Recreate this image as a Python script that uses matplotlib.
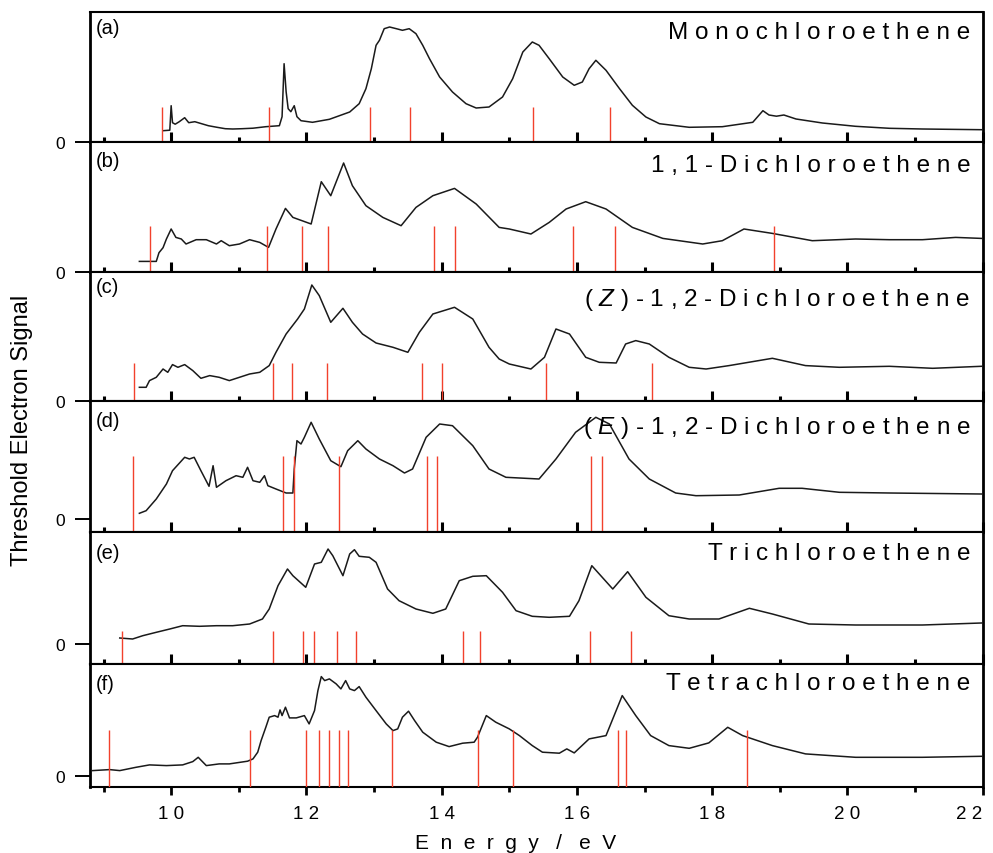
import matplotlib
matplotlib.use("Agg")
import matplotlib.pyplot as plt

plt.rcParams['font.family'] = ['Liberation Sans', 'DejaVu Sans']
plt.rcParams['mathtext.fontset'] = 'custom'
plt.rcParams['mathtext.rm'] = 'Liberation Sans'
plt.rcParams['mathtext.it'] = 'Liberation Sans:italic'

# ---- data (energy in eV, signal in arbitrary units) ----
names = ["Monochloroethene", "1,1-Dichloroethene", "(Z)-1,2-Dichloroethene",
         "(E)-1,2-Dichloroethene", "Trichloroethene", "Tetrachloroethene"]
panel_tags = ["(a)", "(b)", "(c)", "(d)", "(e)", "(f)"]

e_a = [9.88, 9.98, 10.00, 10.02, 10.06, 10.12, 10.20, 10.26, 10.35, 10.45, 10.55, 10.67,
       10.80, 10.91, 11.05, 11.21, 11.40, 11.60, 11.64, 11.67, 11.70, 11.73, 11.77, 11.82,
       11.86, 11.92, 12.09, 12.34, 12.64, 12.78, 12.88, 12.96, 13.03, 13.08, 13.15, 13.23,
       13.33, 13.42, 13.52, 13.62, 13.72, 13.82, 13.97, 14.16, 14.36, 14.51, 14.70, 14.90,
       15.05, 15.20, 15.34, 15.44, 15.59, 15.79, 15.96, 16.08, 16.18, 16.28, 16.43, 16.63,
       16.82, 17.02, 17.22, 17.66, 18.15, 18.60, 18.75, 18.84, 18.95, 19.06, 19.24, 19.63,
       20.12, 20.62, 21.11, 21.98]
s_a = [11.0, 11.5, 36.0, 19.0, 17.5, 20.0, 24.0, 19.0, 20.0, 18.0, 16.0, 14.5,
       13.0, 12.7, 13.0, 13.5, 15.0, 16.0, 25.0, 78.0, 50.0, 33.0, 30.0, 36.0,
       25.0, 21.0, 19.4, 22.4, 29.7, 38.0, 53.0, 73.0, 96.4, 101.4, 113.0, 114.7,
       113.0, 111.4, 113.0, 108.0, 96.4, 83.0, 64.7, 49.7, 38.0, 33.7, 34.7, 44.7,
       63.0, 89.7, 99.7, 96.4, 83.0, 64.7, 56.4, 59.7, 73.0, 81.4, 71.4, 53.0,
       36.4, 24.7, 18.0, 14.4, 15.0, 19.4, 31.0, 26.7, 25.5, 26.7, 22.7, 18.7,
       15.4, 13.4, 12.7, 12.0]

e_b = [9.53, 9.78, 9.82, 9.88, 9.93, 10.00, 10.07, 10.15, 10.22, 10.37, 10.52, 10.67,
       10.74, 10.86, 11.01, 11.16, 11.31, 11.44, 11.55, 11.69, 11.80, 12.07, 12.22, 12.36,
       12.55, 12.68, 12.88, 13.13, 13.40, 13.62, 13.87, 14.19, 14.51, 14.85, 15.00, 15.32,
       15.59, 15.84, 16.13, 16.43, 16.82, 17.27, 17.86, 18.15, 18.47, 18.89, 19.48, 20.12,
       20.62, 21.11, 21.60, 21.98]
s_b = [10.3, 10.3, 19.0, 24.0, 32.7, 42.7, 34.3, 32.7, 27.7, 32.0, 32.0, 27.7,
       31.0, 26.0, 27.7, 32.0, 29.3, 24.3, 42.7, 63.3, 54.3, 47.7, 90.0, 76.0,
       108.7, 86.0, 66.0, 54.3, 46.0, 64.3, 76.0, 83.3, 67.7, 44.3, 42.7, 37.7,
       49.3, 62.7, 70.0, 62.7, 44.3, 33.3, 27.7, 31.0, 42.7, 38.3, 31.0, 32.7,
       32.0, 32.0, 34.3, 33.3]

e_c = [9.53, 9.63, 9.68, 9.78, 9.88, 9.95, 10.02, 10.10, 10.20, 10.32, 10.44, 10.57,
       10.71, 10.86, 11.01, 11.16, 11.31, 11.45, 11.55, 11.70, 11.87, 11.97, 12.08, 12.19,
       12.36, 12.54, 12.68, 12.83, 13.03, 13.28, 13.50, 13.67, 13.87, 14.19, 14.46, 14.70,
       14.85, 15.00, 15.32, 15.52, 15.69, 15.89, 16.13, 16.33, 16.58, 16.72, 16.87, 17.07,
       17.36, 17.66, 17.91, 18.25, 18.89, 19.38, 19.88, 20.62, 21.26, 21.98]
s_c = [14.0, 14.0, 20.7, 24.0, 32.3, 29.0, 36.7, 34.0, 36.7, 30.7, 23.0, 25.7,
       24.0, 20.7, 24.0, 27.3, 29.0, 35.7, 49.0, 67.3, 82.3, 92.3, 116.3, 105.7,
       79.0, 93.0, 79.0, 67.3, 58.3, 54.0, 49.0, 69.0, 87.3, 94.0, 82.3, 54.0,
       42.3, 37.3, 32.3, 44.0, 72.3, 67.3, 44.0, 39.0, 38.3, 57.3, 60.7, 57.3,
       44.0, 34.0, 32.3, 35.7, 43.0, 35.7, 34.0, 35.0, 33.0, 35.0]

e_d = [9.53, 9.63, 9.78, 9.93, 10.02, 10.20, 10.27, 10.34, 10.44, 10.56, 10.62, 10.67,
       10.81, 10.96, 11.06, 11.13, 11.21, 11.31, 11.38, 11.43, 11.55, 11.70, 11.80, 11.82,
       11.86, 11.92, 11.97, 12.07, 12.19, 12.36, 12.51, 12.61, 12.76, 12.88, 13.08, 13.28,
       13.45, 13.57, 13.77, 13.97, 14.16, 14.46, 14.70, 14.95, 15.44, 15.69, 15.98, 16.28,
       16.48, 16.77, 17.07, 17.46, 17.76, 18.40, 18.99, 19.33, 19.88, 20.62, 21.98]
s_d = [5.7, 8.3, 20.0, 35.0, 48.3, 61.7, 60.0, 61.7, 48.3, 32.7, 53.3, 31.7,
       38.3, 43.3, 41.7, 51.7, 38.3, 36.7, 43.3, 33.3, 30.0, 26.0, 26.0, 50.0,
       78.3, 75.0, 81.7, 96.7, 80.0, 58.3, 52.3, 68.3, 78.3, 70.0, 60.0, 53.3,
       46.0, 50.0, 81.7, 95.0, 93.3, 73.3, 50.0, 41.7, 40.0, 60.0, 86.7, 101.7,
       95.0, 60.0, 40.0, 26.0, 23.3, 24.0, 30.7, 30.7, 26.7, 26.0, 25.0]

e_e = [9.24, 9.43, 9.58, 9.78, 9.98, 10.17, 10.42, 10.67, 10.91, 11.16, 11.35, 11.45,
       11.58, 11.72, 11.80, 11.99, 12.12, 12.22, 12.32, 12.39, 12.54, 12.64, 12.71, 12.78,
       12.93, 13.03, 13.20, 13.37, 13.62, 13.87, 14.06, 14.26, 14.46, 14.66, 14.90, 15.10,
       15.34, 15.59, 15.89, 16.03, 16.22, 16.53, 16.75, 17.02, 17.36, 17.66, 18.10, 18.55,
       18.89, 19.43, 20.12, 21.11, 21.98]
s_e = [6.0, 5.0, 8.3, 11.7, 15.0, 18.3, 17.7, 18.3, 18.3, 20.0, 25.0, 35.0,
       58.3, 75.0, 68.3, 56.7, 80.0, 81.7, 95.0, 88.3, 68.3, 90.0, 94.3, 87.7,
       86.7, 81.7, 55.0, 43.3, 35.0, 30.7, 35.0, 63.3, 67.7, 68.3, 51.7, 33.3,
       27.7, 26.7, 27.7, 43.3, 78.3, 55.0, 72.3, 46.7, 28.3, 25.0, 25.0, 35.7,
       30.0, 20.0, 19.0, 19.0, 21.0]

e_f = [8.84, 9.09, 9.24, 9.48, 9.68, 9.93, 10.17, 10.32, 10.40, 10.52, 10.71, 10.86,
       11.13, 11.21, 11.28, 11.33, 11.40, 11.45, 11.53, 11.58, 11.61, 11.64, 11.69, 11.75,
       11.85, 11.97, 12.04, 12.12, 12.17, 12.22, 12.27, 12.34, 12.44, 12.51, 12.58, 12.64,
       12.71, 12.78, 12.88, 13.03, 13.18, 13.28, 13.35, 13.42, 13.51, 13.60, 13.72, 13.92,
       14.11, 14.31, 14.48, 14.53, 14.66, 14.80, 15.00, 15.15, 15.34, 15.49, 15.74, 15.85,
       15.96, 16.18, 16.43, 16.67, 16.87, 17.09, 17.36, 17.66, 17.95, 18.23, 18.45, 18.89,
       19.38, 20.12, 21.11, 21.98]
s_f = [5.0, 6.0, 5.0, 8.3, 10.7, 10.0, 10.7, 14.0, 18.3, 10.0, 11.7, 11.7,
       14.4, 16.7, 23.4, 35.0, 48.4, 58.4, 60.0, 58.4, 65.7, 60.0, 68.4, 57.7,
       57.7, 60.0, 51.7, 65.0, 85.0, 99.0, 95.0, 96.7, 91.7, 86.7, 95.0, 86.7,
       85.0, 89.0, 78.4, 65.0, 51.7, 45.0, 46.7, 58.4, 64.4, 55.0, 43.4, 33.4,
       29.0, 32.4, 33.4, 38.4, 60.0, 53.4, 46.7, 40.0, 30.0, 23.4, 22.4, 26.7,
       22.7, 36.7, 40.0, 80.0, 60.0, 40.0, 30.0, 27.3, 32.7, 48.3, 40.0, 30.0,
       21.7, 18.3, 18.3, 19.3]

# calculated ionisation energies (red sticks)
ie_a = [9.87, 11.45, 12.94, 13.53, 15.35, 16.49]
ie_b = [9.69, 11.42, 11.94, 12.32, 13.89, 14.19, 15.94, 16.56, 18.92]
ie_c = [9.45, 11.50, 11.78, 12.31, 13.71, 14.01, 15.55, 17.11]
ie_d = [9.44, 11.66, 11.82, 12.48, 13.78, 13.93, 16.21, 16.37]
ie_e = [9.27, 11.50, 11.95, 12.11, 12.45, 12.74, 14.31, 14.57, 16.19, 16.80]
ie_f = [9.08, 11.17, 11.99, 12.19, 12.34, 12.48, 12.62, 13.26, 14.53, 15.06,
        16.61, 16.72, 18.51]

energies = [e_a, e_b, e_c, e_d, e_e, e_f]
signals = [s_a, s_b, s_c, s_d, s_e, s_f]
sticks = [ie_a, ie_b, ie_c, ie_d, ie_e, ie_f]

# ---- layout (pixel rows of panel edges in a 993x854 figure) ----
W, H = 993, 854
edges = [13.3, 142.7, 272.7, 402.3, 533.3, 665.0, 788.3]
left_px, right_px = 90.0, 982.7
ylims = [(0, 129.4), (0, 130.0), (0, 129.6), (-13.3, 117.7), (-20.0, 111.7), (-11.7, 111.6)]
stick_top = [34.3, 45.3, 38.3, 63.3, 13.3, 45.7]
tag_pad = [4, 7, 4, 7, 8, 7]
name_pad = [6, 9, 10, 9, 7, 6]

fig = plt.figure(figsize=(W / 100, H / 100), dpi=100)

for i in range(6):
    bottom = 1 - edges[i + 1] / H
    height = (edges[i + 1] - edges[i]) / H
    ax = fig.add_axes([left_px / W, bottom, (right_px - left_px) / W, height])

    ax.plot(energies[i], signals[i], color='#1a1a1a', lw=1.1, zorder=2)
    lo, hi = ylims[i]
    ax.vlines(sticks[i], lo, stick_top[i], color='#f2412c', lw=1.0, zorder=3)

    ax.set_xlim(8.8, 22.0)
    ax.set_ylim(lo, hi)

    major = list(range(10, 23, 2))
    ax.set_xticks(major)
    ax.set_xticks(list(range(9, 22, 2)), minor=True)
    ax.set_yticks([0])
    ax.set_yticklabels(['0'])
    ax.tick_params(axis='y', direction='out', length=11, width=1.4, pad=7,
                   labelsize=12.5, right=False)

    if i < 5:
        ax.tick_params(axis='x', which='major', direction='in', length=7, width=2.2,
                       labelbottom=False, top=False)
        ax.tick_params(axis='x', which='minor', direction='in', length=3.6, width=2.2,
                       top=False)
    else:
        ax.set_xticklabels([" ".join(str(t)) for t in major])
        ax.tick_params(axis='x', which='major', direction='out', length=6, width=2.0,
                       pad=7, labelsize=13.5, top=False)
        ax.tick_params(axis='x', which='minor', direction='out', length=3.5, width=2.0,
                       top=False)
        # last label sits on the right spine; keep it inside the figure
        ax.get_xticklabels()[-1].set_horizontalalignment('right')

    for side in ['top', 'bottom']:
        ax.spines[side].set_linewidth(1.5)
    for side in ['left', 'right']:
        ax.spines[side].set_linewidth(2.0)

    ax.annotate(panel_tags[i], xy=(0, 1), xycoords='axes fraction',
                xytext=(4, -tag_pad[i]), textcoords='offset points',
                ha='left', va='top', fontsize=14.5)

    spaced = " ".join(names[i])
    if names[i].startswith("("):
        letter = names[i][1]
        spaced = spaced.replace(f"( {letter} )", "( $\\mathit{" + letter + "}$ )", 1)
    ax.annotate(spaced, xy=(1, 1), xycoords='axes fraction',
                xytext=(-9, -name_pad[i]), textcoords='offset points',
                ha='right', va='top', fontsize=17.5)

xlabel = "  ".join("Energy/eV").replace("y  /", "y   /").replace("/  e", "/   e")
fig.text(0.022, 0.4965, 'Threshold Electron Signal', rotation=90,
         ha='center', va='center', fontsize=17)
fig.text(516 / W, 1 - 849 / H, xlabel, ha='center', va='baseline', fontsize=15)

fig.savefig('out.png', dpi=100)
